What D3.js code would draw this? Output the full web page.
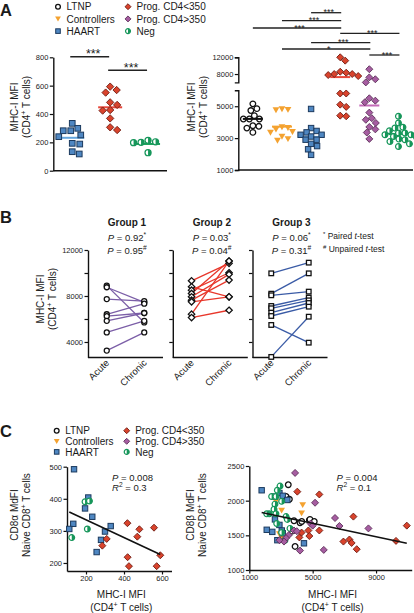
<!DOCTYPE html>
<html><head><meta charset="utf-8">
<script src="https://cdn.jsdelivr.net/npm/d3@7"></script>
<style>
body{margin:0;background:#fff}
svg{display:block}
text{font-family:"Liberation Sans",Arial,Helvetica,sans-serif;fill:#1a1a1a}
</style>
</head><body>
<svg id="c" width="414" height="613"></svg>
<script>
// ---------------- DATA ----------------
const groupNames = ["LTNP","Controllers","HAART","Prog. CD4<350","Prog. CD4>350","Neg"];

// Panel A left (MHC-I MFI, CD4+ T cells)
const aLeftCats = ["HAART","Prog. CD4<350","Neg"];
const aLeftHAART = [299,334,282,282,240,252,193,188,118,134];
const aLeftProgLo = [569,551,593,464,482,424,428,369,287,306];
const aLeftNeg = [198,214,200,204,127];
const aLeftTicks = [0,200,400,600,800];
const aLeftSig = [["HAART","Prog. CD4<350","***"],["Prog. CD4<350","Neg","***"]];

// Panel A right
const aRightLTNP = [5150,4850,4730,4410,4200,4200,4200,3780,3630,3740,3360];
const aRightControllers = [4830,4790,4760,3700,3650,3550,3400,3350,3100,2950,2850];
const aRightHAART = [4830,3630,3450,3360,3210,3210,3100,2900,2900,2640,2500,2300,1950];
const aRightProgLo = [12000,11200,8550,8310,8000,8000,7760,7520,5800,5800,5100,4960,4410,4370];
const aRightProgHi = [9150,7200,6750,6000,5500,5350,5250,4600,4250,4150,3950,3700,3550,3350,2950];
const aRightNeg = [4370,3950,3680,3630,3460,3320,3320,3210,3210,3100,2900,2940,2790,2640,2470,3050];
const aRightTicksLow = [1000,3000,5000];
const aRightTicksHigh = [8000,12000];
const aRightSig = [["HAART","Prog. CD4<350","***"],["Controllers","Prog. CD4<350","***"],["LTNP","Prog. CD4<350","***"],
  ["Prog. CD4<350","Neg","***"],["HAART","Prog. CD4>350","***"],["Controllers","Prog. CD4>350","*"],["Prog. CD4>350","Neg","***"]];

// Panel B (acute vs chronic, paired)
const bTimes = ["Acute","Chronic"];
const bGroupTitles = ["Group 1","Group 2","Group 3"];
const bPaired = ["0.92","0.03","0.06"];
const bUnpaired = ["0.95","0.04","0.31"];
const g1Acute = [8900,8760,7730,6410,6240,5840,4830,3250];
const g1Chronic = [5700,7450,7550,7330,6520,6520,5840,4830];
const g2Acute = [9320,8800,8510,8220,7930,7640,7490,6420,6120];
const g2Chronic = [10840,7930,10020,11040,9880,9380,7930,11040,6760];
const g3Acute = [9970,8200,8060,7130,6930,6550,6260,5480,2700];
const g3Chronic = [10900,9970,8380,7860,7620,7390,7070,3940,6200];
const bTicks = [4000,6000,8000,10000,12000];
const bTickLabels = [4000,8000,12000];

// Panel C left: [MHC-I MFI, CD8a MdFI]
const cLeftHAART = [[137,492],[212,404],[195,370],[233,344],[133,322],[112,306],[330,315],[300,298],[279,272],[256,234]];
const cLeftNeg = [[195,391],[218,393],[207,306],[125,279]];
const cLeftProgLo = [[418,324],[481,305],[470,282],[309,275],[286,254],[558,310],[591,224],[419,218],[426,190],[572,190]];
const cLeftXTicks = [200,400,600];
const cLeftYTicks = [200,300,400,500];
// Panel C right: [MHC-I MFI, CD8b MdFI]
const cRightLTNP = [[3320,2060],[3460,2230],[3530,2020],[3820,1710],[3890,1340],[4200,1680],[4310,1700],[4790,1720],[4830,1730],[3700,1560],[5100,1700]];
const cRightControllers = [[4370,1940],[4300,1820],[3040,1860],[2680,1990],[2900,1520],[3100,1450]];
const cRightHAART = [[1780,2150],[2620,2060],[2900,2110],[3110,2070],[3400,2010],[2620,1730],[2100,1580],[2450,1550],[3050,1570],[2770,1430],[3110,1530],[4450,1385],[2900,1650]];
const cRightNeg = [[2940,2210],[2770,2150],[2410,2060],[2680,2060],[3040,1990],[2620,1950],[2560,1875],[2260,1810],[2100,1810],[2680,1810],[3320,1770],[3400,1730],[2730,1670],[3570,1600],[3040,1540],[3250,1430]];
const cRightProgLo = [[4030,2130],[5420,2090],[4730,1570],[4790,1490],[4160,1470],[5420,1570],[7570,1770],[6940,1410],[7320,1440],[7460,1390],[7780,1300],[10260,1420],[10940,1640],[4300,1540]];
const cRightProgHi = [[3890,2400],[5150,1970],[6410,1750],[6690,1635],[8520,1600],[4870,1670],[3820,1570],[3500,1505],[3320,1460],[3190,1410],[4200,1280],[5700,1290],[5000,1640],[4000,1560],[2900,1430]];
const cRightXTicks = [1000,5000,9000];
const cRightYTicks = [1000,1500,2000,2500];
const cLeftStats = ["0.008","0.3"];
const cRightStats = ["0.004","0.1"];

// ---------------- STYLE ----------------
const STY = {
  "LTNP":{line:"#111"},
  "Controllers":{line:"#f4a230"},
  "HAART":{line:"#64a6de"},
  "Prog. CD4<350":{line:"#e8473a"},
  "Prog. CD4>350":{line:"#c46ab8"},
  "Neg":{line:"#17a05a"}
};
const fmt = d3.format("d");
const svg = d3.select("#c");
svg.append("rect").attr("width",414).attr("height",613).attr("fill","#fff");

function marker(sel, type, x, y, k) {
  k = k || 1;
  const g = sel.append("g").attr("transform", `translate(${x},${y})`);
  if (type === "LTNP") {
    g.append("circle").attr("r", 2.8*k).attr("fill","#fff").attr("stroke","#111").attr("stroke-width",1.3);
  } else if (type === "Controllers") {
    g.append("path").attr("d", `M${-3.4*k},${-2.7*k}L${3.4*k},${-2.7*k}L0,${3.2*k}Z`).attr("fill","#f4a230");
  } else if (type === "HAART") {
    const s = 2.7*k;
    g.append("rect").attr("x",-s).attr("y",-s).attr("width",2*s).attr("height",2*s)
      .attr("fill","#4f87c2").attr("stroke","#1c3a5e").attr("stroke-width",1);
  } else if (type === "Prog. CD4<350" || type === "Prog. CD4>350") {
    const s = 3.5*k;
    const lo = type === "Prog. CD4<350";
    g.append("path").attr("d", `M0,${-s}L${s},0L0,${s}L${-s},0Z`)
      .attr("fill", lo ? "#d9432c" : "#a65da1").attr("stroke", lo ? "#6e1c12" : "#5b2f58").attr("stroke-width",0.9);
  } else if (type === "Neg") {
    const r = 2.9*k;
    g.append("circle").attr("r", r).attr("fill","#fff").attr("stroke","#16965a").attr("stroke-width",1.2);
    g.append("path").attr("d", `M0,${-r}A${r},${r} 0 0 1 0,${r}Z`).attr("fill","#16965a");
  } else if (type === "ocircle") {
    g.append("circle").attr("r", 2.5).attr("fill","#fff").attr("stroke","#111").attr("stroke-width",1.3);
  } else if (type === "odiamond") {
    g.append("path").attr("d","M0,-3.2L3.2,0L0,3.2L-3.2,0Z").attr("fill","#fff").attr("stroke","#111").attr("stroke-width",1.3);
  } else if (type === "osquare") {
    g.append("rect").attr("x",-2.3).attr("y",-2.3).attr("width",4.6).attr("height",4.6).attr("fill","#fff").attr("stroke","#111").attr("stroke-width",1.3);
  }
}

function rich(sel, parts, fs) {
  let shift = 0;
  parts.forEach(p => {
    const ts = sel.append("tspan").text(p.t);
    const target = p.sup ? -fs*0.38 : 0;
    if (target !== shift) { ts.attr("dy", target - shift); shift = target; }
    if (p.sup) ts.attr("font-size", fs*0.7);
    if (p.i) ts.attr("font-style","italic");
  });
  return sel;
}

function styleAxis(g, fs) {
  g.selectAll(".domain").attr("stroke","#111").attr("stroke-width",1.4);
  g.selectAll(".tick line").attr("stroke","#111").attr("stroke-width",1.2);
  g.selectAll(".tick text").attr("font-size", fs || 7.5).attr("fill","#1a1a1a")
    .attr("font-family",'"Liberation Sans",Arial,sans-serif');
}

function vLabel(x1, x2, cy, line1, line2parts, fs) {
  svg.append("text").attr("transform",`translate(${x1},${cy}) rotate(-90)`).attr("text-anchor","middle")
    .attr("font-size",fs).text(line1);
  rich(svg.append("text").attr("transform",`translate(${x2},${cy}) rotate(-90)`).attr("text-anchor","middle")
    .attr("font-size",fs), line2parts, fs);
}

function dodge(vals, yf, cx, D) {
  const pts = vals.map(v => ({v, y: yf(v)})).sort((a,b) => a.y - b.y);
  const placed = [];
  for (const p of pts) {
    let off = 0;
    for (let k = 0; k < 80; k++) {
      const o = (k % 2 ? 1 : -1) * Math.ceil(k/2) * 0.5;
      if (placed.every(q => (q.x - (cx + o))**2 + (q.y - p.y)**2 >= D*D)) { off = o; break; }
    }
    p.x = cx + off; placed.push(p);
  }
  return pts;
}

function legend(x1, x2, y0, dy) {
  const cols = [[groupNames[0],groupNames[1],groupNames[2]],[groupNames[3],groupNames[4],groupNames[5]]];
  cols.forEach((col, ci) => {
    const mx = ci === 0 ? x1 : x2;
    col.forEach((name, ri) => {
      const y = y0 + ri*dy;
      marker(svg, name, mx, y, 0.85);
      svg.append("text").attr("x", mx + 8.5).attr("y", y + 3.6).attr("font-size",10).text(name);
    });
  });
}

const CD4 = [{t:"(CD4"},{t:"+",sup:true},{t:" T cells)"}];
const CD8 = [{t:"Naive CD8"},{t:"+",sup:true},{t:" T cells"}];

// ---------------- PANEL A ----------------
svg.append("text").attr("x",0).attr("y",15.5).attr("font-size",16.5).attr("font-weight","bold").text("A");
legend(58, 128, 6.7, 12.2);

// A left
const xAL = d3.scalePoint().domain(aLeftCats).range([53.3,167]).padding(0.5);
const yAL = d3.scaleLinear().domain([0,800]).range([170.7,57.3]);
styleAxis(svg.append("g").attr("transform","translate(53.3,0)")
  .call(d3.axisLeft(yAL).tickValues(aLeftTicks).tickFormat(fmt).tickSize(3.5).tickSizeOuter(0).tickPadding(1.5)));
svg.append("line").attr("x1",53.3).attr("x2",167).attr("y1",yAL(0)).attr("y2",yAL(0)).attr("stroke","#111").attr("stroke-width",1.4);
vLabel(17.5, 29.5, 107, "MHC-I MFI", CD4, 10);
const aLeftSeries = [["HAART",aLeftHAART],["Prog. CD4<350",aLeftProgLo],["Neg",aLeftNeg]];
aLeftSeries.forEach(([name, vals]) => {
  const cx = xAL(name);
  const m = d3.mean(vals);
  svg.append("line").attr("x1",cx-12).attr("x2",cx+12).attr("y1",yAL(m)).attr("y2",yAL(m))
    .attr("stroke",STY[name].line).attr("stroke-width",2);
  dodge(vals, yAL, cx, 7.2).forEach(p => marker(svg, name, p.x, p.y, 1.05));
});
const aLeftLevels = [56.7, 70.3];
aLeftSig.forEach(([a,b,s], i) => {
  const y = aLeftLevels[i];
  svg.append("line").attr("x1",xAL(a)-2).attr("x2",xAL(b)-1).attr("y1",y).attr("y2",y).attr("stroke","#222").attr("stroke-width",1.4);
  svg.append("text").attr("x",(xAL(a)+xAL(b))/2+2).attr("y",y+1.5).attr("text-anchor","middle").attr("font-size",12.5).text(s);
});

// A right (broken axis)
const xAR = d3.scalePoint().domain(groupNames).range([238.3,413]).padding(0.5);
const yARlo = d3.scaleLinear().domain([1000,6000]).range([170,90.3]);
const yARhi = d3.scaleLinear().domain([6000,12000]).range([82.4,57.3]);
const yAR = v => v >= 6000 ? yARhi(v) : yARlo(v);
styleAxis(svg.append("g").attr("transform","translate(238.3,0)")
  .call(d3.axisLeft(yARlo).tickValues(aRightTicksLow).tickFormat(fmt).tickSize(3.5).tickSizeOuter(3.5).tickPadding(1.5)));
styleAxis(svg.append("g").attr("transform","translate(238.3,0)")
  .call(d3.axisLeft(yARhi).tickValues(aRightTicksHigh).tickFormat(fmt).tickSize(3.5).tickSizeOuter(3.5).tickPadding(1.5)));
svg.append("line").attr("x1",238.3).attr("x2",413).attr("y1",170).attr("y2",170).attr("stroke","#111").attr("stroke-width",1.4);
vLabel(194.5, 206.5, 107, "MHC-I MFI", CD4, 10);
const aRightSeries = [["LTNP",aRightLTNP],["Controllers",aRightControllers],["HAART",aRightHAART],
  ["Prog. CD4<350",aRightProgLo],["Prog. CD4>350",aRightProgHi],["Neg",aRightNeg]];
aRightSeries.forEach(([name, vals]) => {
  const cx = xAR(name);
  const m = d3.mean(vals);
  const pts = dodge(vals, yAR, cx, 6.0);
  if (name === "LTNP") {
    pts.forEach(p => marker(svg, name, p.x, p.y));
    svg.append("line").attr("x1",cx-10).attr("x2",cx+10).attr("y1",yAR(m)).attr("y2",yAR(m)).attr("stroke",STY[name].line).attr("stroke-width",2);
  } else {
    svg.append("line").attr("x1",cx-10).attr("x2",cx+10).attr("y1",yAR(m)).attr("y2",yAR(m)).attr("stroke",STY[name].line).attr("stroke-width",2);
    pts.forEach(p => marker(svg, name, p.x, p.y));
  }
});
const aRightLevels = [12.7, 20.7, 28, 33.3, 42.7, 49, 55];
aRightSig.forEach(([a,b,s], i) => {
  const y = aRightLevels[i];
  svg.append("line").attr("x1",xAR(a)).attr("x2",xAR(b)+1).attr("y1",y).attr("y2",y).attr("stroke","#222").attr("stroke-width",1.3);
  svg.append("text").attr("x",(xAR(a)+xAR(b))/2+3).attr("y",y+2.6).attr("text-anchor","middle").attr("font-size",9).text(s);
});

// ---------------- PANEL B ----------------
svg.append("text").attr("x",0).attr("y",223).attr("font-size",16.5).attr("font-weight","bold").text("B");
const yB = d3.scaleLinear().domain([2650,12000]).range([357.5,250]);
const bX0 = [88, 172.8, 252.5];
const bW = 75;
const bData = [[g1Acute,g1Chronic],[g2Acute,g2Chronic],[g3Acute,g3Chronic]];
const bLineCol = ["#7b5ea7","#e8372b","#3a5ba6"];
const bMark = ["ocircle","odiamond","osquare"];
vLabel(43.5, 55.5, 299, "MHC-I MFI", CD4, 10);
bData.forEach(([ac, ch], gi) => {
  const x0 = bX0[gi];
  const xB = d3.scalePoint().domain(bTimes).range([x0, x0 + bW]).padding(0.5);
  const ax = d3.axisLeft(yB).tickValues(bTicks).tickSize(3.5).tickSizeOuter(0).tickPadding(1.5)
    .tickFormat(d => (gi === 0 && bTickLabels.includes(d)) ? fmt(d) : "");
  styleAxis(svg.append("g").attr("transform",`translate(${x0},0)`).call(ax));
  svg.append("line").attr("x1",x0).attr("x2",x0+bW).attr("y1",yB.range()[0]).attr("y2",yB.range()[0]).attr("stroke","#111").attr("stroke-width",1.4);
  ac.forEach((v, i) => {
    svg.append("line").attr("x1",xB("Acute")).attr("x2",xB("Chronic")).attr("y1",yB(v)).attr("y2",yB(ch[i]))
      .attr("stroke",bLineCol[gi]).attr("stroke-width",1.3);
  });
  ac.forEach(v => marker(svg, bMark[gi], xB("Acute"), yB(v)));
  ch.forEach(v => marker(svg, bMark[gi], xB("Chronic"), yB(v)));
  bTimes.forEach(t => {
    svg.append("text").attr("transform",`translate(${xB(t)+3},${363.5}) rotate(-45)`).attr("text-anchor","end")
      .attr("font-size",9.5).text(t);
  });
  const cx = x0 + bW/2 + 1.5;
  svg.append("text").attr("x",cx).attr("y",225.5).attr("text-anchor","middle").attr("font-size",10).attr("font-weight","bold").text(bGroupTitles[gi]);
  rich(svg.append("text").attr("x",cx).attr("y",241).attr("text-anchor","middle").attr("font-size",9.5),
    [{t:"P",i:true},{t:" = " + bPaired[gi]},{t:"*",sup:true}], 9.5);
  rich(svg.append("text").attr("x",cx).attr("y",253.5).attr("text-anchor","middle").attr("font-size",9.5),
    [{t:"P",i:true},{t:" = " + bUnpaired[gi]},{t:"#",sup:true}], 9.5);
});
rich(svg.append("text").attr("x",323).attr("y",239.3).attr("font-size",8.5),
  [{t:"*",sup:true},{t:" Paired "},{t:"t",i:true},{t:"-test"}], 8.5);
rich(svg.append("text").attr("x",323).attr("y",252.3).attr("font-size",8.5),
  [{t:"#",sup:true},{t:" Unpaired "},{t:"t",i:true},{t:"-test"}], 8.5);

// ---------------- PANEL C ----------------
svg.append("text").attr("x",0).attr("y",437).attr("font-size",16.5).attr("font-weight","bold").text("C");
legend(56.7, 126.7, 430.7, 10.6);

function regress(pts) {
  const mx = d3.mean(pts, d => d[0]), my = d3.mean(pts, d => d[1]);
  const sxy = d3.sum(pts, d => (d[0]-mx)*(d[1]-my)), sxx = d3.sum(pts, d => (d[0]-mx)**2);
  const b = sxy/sxx;
  return {b, a: my - b*mx, x0: d3.min(pts, d => d[0]), x1: d3.max(pts, d => d[0])};
}

function scatter(opts) {
  const {xs, ys, series, xt, yt, stats, txtX, lab1, lab1x, lab2x} = opts;
  styleAxis(svg.append("g").attr("transform",`translate(${xs.range()[0]},0)`)
    .call(d3.axisLeft(ys).tickValues(yt).tickFormat(fmt).tickSize(3.5).tickSizeOuter(0).tickPadding(1.5)));
  styleAxis(svg.append("g").attr("transform",`translate(0,${ys.range()[0]})`)
    .call(d3.axisBottom(xs).tickValues(xt).tickFormat(fmt).tickSize(3.5).tickSizeOuter(0).tickPadding(1.5)));
  series.forEach(([name, pts]) => pts.forEach(p => marker(svg, name, xs(p[0]), ys(p[1]))));
  const all = series.flatMap(s => s[1]);
  const r = regress(all);
  svg.append("line").attr("x1",xs(r.x0)).attr("x2",xs(r.x1)).attr("y1",ys(r.a + r.b*r.x0)).attr("y2",ys(r.a + r.b*r.x1))
    .attr("stroke","#111").attr("stroke-width",1.6);
  rich(svg.append("text").attr("x",txtX).attr("y",480.7).attr("font-size",9.5), [{t:"P",i:true},{t:" = " + stats[0]}], 9.5);
  rich(svg.append("text").attr("x",txtX).attr("y",491).attr("font-size",9.5), [{t:"R",i:true},{t:"2",sup:true},{t:" = " + stats[1]}], 9.5);
  const cx = (xs.range()[0] + xs.range()[1]) / 2 + 2;
  svg.append("text").attr("x",cx).attr("y",598).attr("text-anchor","middle").attr("font-size",10).text("MHC-I MFI");
  rich(svg.append("text").attr("x",cx).attr("y",610.5).attr("text-anchor","middle").attr("font-size",10), CD4, 10);
  vLabel(lab1x, lab2x, 515, lab1, CD8, 10);
}

scatter({
  xs: d3.scaleLinear().domain([100,650]).range([67,171.5]),
  ys: d3.scaleLinear().domain([175,500]).range([571,466.7]),
  series: [["HAART",cLeftHAART],["Neg",cLeftNeg],["Prog. CD4<350",cLeftProgLo]],
  xt: cLeftXTicks, yt: cLeftYTicks, stats: cLeftStats, txtX: 112,
  lab1: "CD8\u03b1 MdFI", lab1x: 17.5, lab2x: 30
});
scatter({
  xs: d3.scaleLinear().domain([1000,11250]).range([249.3,411.7]),
  ys: d3.scaleLinear().domain([1000,2500]).range([570,466]),
  series: [["LTNP",cRightLTNP],["Controllers",cRightControllers],["HAART",cRightHAART],["Neg",cRightNeg],
           ["Prog. CD4<350",cRightProgLo],["Prog. CD4>350",cRightProgHi]],
  xt: cRightXTicks, yt: cRightYTicks, stats: cRightStats, txtX: 336.5,
  lab1: "CD8\u03b2 MdFI", lab1x: 193.5, lab2x: 206
});
</script>
</body></html>
